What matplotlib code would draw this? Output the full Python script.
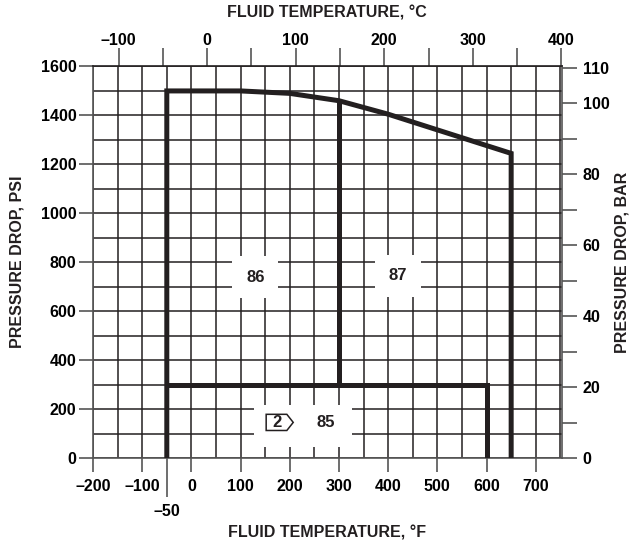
#!/usr/bin/env python
import matplotlib.pyplot as plt
import numpy as np
from matplotlib.patches import Rectangle, Polygon

plt.rcParams['font.family'] = ['Liberation Sans', 'DejaVu Sans']
plt.rcParams['font.weight'] = 'bold'

# Boundary of the operating envelope (deg F, psi)
top_f = [-50, -50, 100, 200, 300, 400, 650, 650]
top_psi = [0, 1500, 1500, 1490, 1460, 1405, 1245, 0]
mid_f = [300, 300]
mid_psi = [300, 1460]
low_f = [-50, 600, 600]
low_psi = [300, 300, 0]

# Region labels
region_names = ['86', '87', '85']
region_f = [130, 420, 274]
region_psi = [740, 745, 147]
note_f = 180
note_psi = 147

# Tick labels
f_ticks = [-200, -100, 0, 100, 200, 300, 400, 500, 600, 700]
c_major = [-100, 0, 100, 200, 300, 400]
c_minor = [-50, 50, 150, 250, 350]
psi_ticks = [0, 200, 400, 600, 800, 1000, 1200, 1400, 1600]
bar_major = [0, 20, 40, 60, 80, 100, 110]
bar_minor = [10, 30, 50, 70, 90]

ink = '#231f20'
edge = '#555555'
fs = 11.5


def dash(v):
    return str(v).replace('-', '\u2013')


def f2c(f):
    return (f - 32) * 5.0 / 9.0


def c2f(c):
    return c * 9.0 / 5.0 + 32


def psi2bar(p):
    return p / 14.5038


def bar2psi(b):
    return b * 14.5038


fig = plt.figure(figsize=(6.37, 5.49), dpi=100)
ax = fig.add_axes([0.146, 0.165, 0.736, 0.714])
ax.set_xlim(-200, 753)
ax.set_ylim(0, 1600)

# grid every 50 F and 100 psi
for xv in np.arange(-200, 751, 50):
    ax.axvline(xv, color=ink, lw=1.1, zorder=1)
for yv in np.arange(0, 1601, 100):
    ax.axhline(yv, color=ink, lw=1.1, zorder=1)

# white patches behind region labels
ax.add_patch(Rectangle((128, 46), 199, 172, facecolor='white', edgecolor='none', zorder=2))
for name, xf, yp in zip(region_names, region_f, region_psi):
    if name == '85':
        ax.text(xf, yp, name, ha='center', va='center', fontsize=12, color=ink, zorder=3)
    else:
        ax.text(xf, yp, name, ha='center', va='center', fontsize=12, color=ink, zorder=3,
                bbox=dict(facecolor='white', edgecolor='none', pad=10))

# note badge "2"
bx, by = note_f, note_psi
ax.add_patch(Polygon([(bx - 28, by - 33), (bx + 14, by - 33), (bx + 27, by),
                      (bx + 14, by + 33), (bx - 28, by + 33)], closed=True,
                     facecolor='white', edgecolor=ink, lw=1.1, zorder=3))
ax.text(bx - 6, by, '2', ha='center', va='center', fontsize=12, color=ink, zorder=4)

# envelope lines
ax.plot(top_f, top_psi, color=ink, lw=3.6, solid_joinstyle='miter', zorder=5)
ax.plot(mid_f, mid_psi, color=ink, lw=3.6, zorder=5)
ax.plot(low_f, low_psi, color=ink, lw=3.6, solid_joinstyle='miter', zorder=5)

for s in ax.spines.values():
    s.set_color(edge)
    s.set_linewidth(1.2)
ax.spines['top'].set_color(ink)

# bottom axis (F)
ax.set_xticks(f_ticks)
ax.set_xticklabels([dash(v) for v in f_ticks])
ax.set_xticks([-50], minor=True)
ax.set_xticklabels([dash(-50)], minor=True)
ax.tick_params(axis='x', which='major', length=10, width=1.2, color=edge,
               labelsize=fs, pad=5)
ax.tick_params(axis='x', which='minor', length=28, width=1.2, color=edge,
               labelsize=fs, pad=5)

# left axis (psi)
ax.set_yticks(psi_ticks)
ax.set_yticklabels([str(v) for v in psi_ticks])
ax.tick_params(axis='y', which='major', length=10, width=1.2, color=edge,
               labelsize=fs, pad=2)

# top axis (C)
top = ax.secondary_xaxis('top', functions=(f2c, c2f))
top.set_xticks(c_major)
top.set_xticklabels([dash(v) for v in c_major])
top.set_xticks(c_minor, minor=True)
top.tick_params(which='both', length=13, width=1.2, color=edge, labelsize=fs, pad=0)
top.spines['top'].set_visible(False)

# right axis (bar)
right = ax.secondary_yaxis('right', functions=(psi2bar, bar2psi))
right.set_yticks(bar_major)
right.set_yticklabels([str(v) for v in bar_major])
right.set_yticks(bar_minor, minor=True)
right.tick_params(which='both', length=11, width=1.2, color=edge, labelsize=fs, pad=4)
right.spines['right'].set_visible(False)

# axis titles
fig.text(327 / 637, 1 - 13 / 549, 'FLUID TEMPERATURE, \u00b0C', ha='center', va='center',
         fontsize=fs, color=ink)
fig.text(327 / 637, 1 - 533 / 549, 'FLUID TEMPERATURE, \u00b0F', ha='center', va='center',
         fontsize=fs, color=ink)
fig.text(17 / 637, 1 - 262 / 549, 'PRESSURE DROP, PSI', ha='center', va='center',
         rotation=90, fontsize=fs, color=ink)
fig.text(622 / 637, 1 - 262 / 549, 'PRESSURE DROP, BAR', ha='center', va='center',
         rotation=90, fontsize=fs, color=ink)

fig.savefig('out.png', dpi=100)
